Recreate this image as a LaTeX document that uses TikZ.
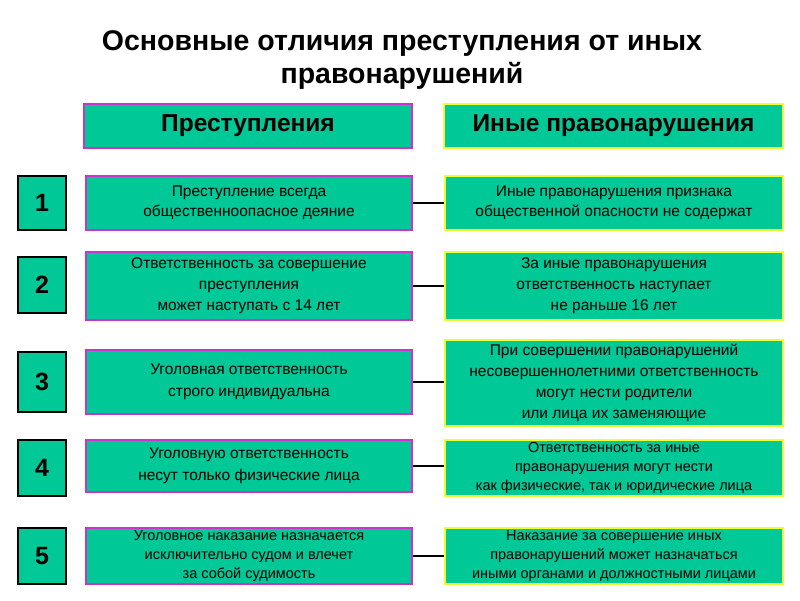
\documentclass[tikz,border=0pt]{standalone}
\usepackage{fontspec}
\setmainfont{Liberation Sans}
\definecolor{tl}{HTML}{00C896}
\definecolor{mg}{HTML}{CC33CC}
\definecolor{yl}{HTML}{EEFF33}
\begin{document}
\begin{tikzpicture}[x=1pt,y=-1pt,
 lbox/.style={draw=mg,line width=2pt,fill=tl,align=center,font=\fontsize{15.5}{20}\selectfont,inner sep=0pt},
 rbox/.style={draw=yl,line width=2pt,fill=tl,align=center,font=\fontsize{15.5}{20}\selectfont,inner sep=0pt},
 nbox/.style={draw=black,line width=1.5pt,fill=tl,font=\bfseries\fontsize{25}{28}\selectfont,inner sep=0pt},
 link/.style={line width=1.2pt}]
\useasboundingbox (0,0) rectangle (800,600);
\node[font=\bfseries\fontsize{28.5}{33}\selectfont,align=center] (title) at (402,60) {Основные отличия преступления от иных\\правонарушений};
\newcommand\bx[6]{\node[#1,minimum width=#4-#3,minimum height=#6-#5] (#2) at ({(#3+#4)/2},{(#5+#6)/2})}
\bx{lbox,font=\bfseries\fontsize{24.5}{26}\selectfont}{hl}{84}{412}{104}{148}{Преступления};
\bx{rbox,font=\bfseries\fontsize{24.5}{26}\selectfont}{hr}{444}{783}{104}{148}{Иные правонарушения};
\bx{nbox}{n1}{18}{66}{176}{230}{1};
\bx{nbox}{n2}{18}{66}{257}{313}{2};
\bx{nbox}{n3}{18}{66}{352}{412}{3};
\bx{nbox}{n4}{18}{66}{440}{496}{4};
\bx{nbox}{n5}{18}{66}{528}{584}{5};
\bx{lbox}{l1}{86}{412}{176}{230}{Преступление всегда\\общественноопасное деяние};
\bx{lbox,font=\fontsize{15.5}{21}\selectfont}{l2}{86}{412}{252}{320}{Ответственность за совершение\\преступления\\может наступать с 14 лет};
\bx{lbox,font=\fontsize{15.5}{22}\selectfont}{l3}{86}{412}{350}{414}{Уголовная ответственность\\строго индивидуальна};
\bx{lbox,font=\fontsize{15.5}{22}\selectfont}{l4}{86}{412}{440}{492}{Уголовную ответственность\\несут только физические лица};
\bx{lbox,font=\fontsize{14.5}{19}\selectfont}{l5}{86}{412}{528}{584}{Уголовное наказание назначается\\исключительно судом и влечет\\за собой судимость};
\bx{rbox}{r1}{445}{783}{176}{230}{Иные правонарушения признака\\общественной опасности не содержат};
\bx{rbox,font=\fontsize{15.5}{21}\selectfont}{r2}{445}{783}{252}{320}{За иные правонарушения\\ответственность наступает\\не раньше 16 лет};
\bx{rbox,font=\fontsize{15.5}{21}\selectfont}{r3}{445}{783}{340}{426}{При совершении правонарушений\\несовершеннолетними ответственность\\могут нести родители\\или лица их заменяющие};
\bx{rbox,font=\fontsize{14.5}{19}\selectfont}{r4}{445}{783}{440}{496}{Ответственность за иные\\правонарушения могут нести\\как физические, так и юридические лица};
\bx{rbox,font=\fontsize{14.5}{19}\selectfont}{r5}{445}{783}{528}{584}{Наказание за совершение иных\\правонарушений может назначаться\\иными органами и должностными лицами};
\foreach \i in {1,...,5} \draw[link] (l\i.east) -- (l\i.east -| r\i.west);
\end{tikzpicture}
\end{document}
